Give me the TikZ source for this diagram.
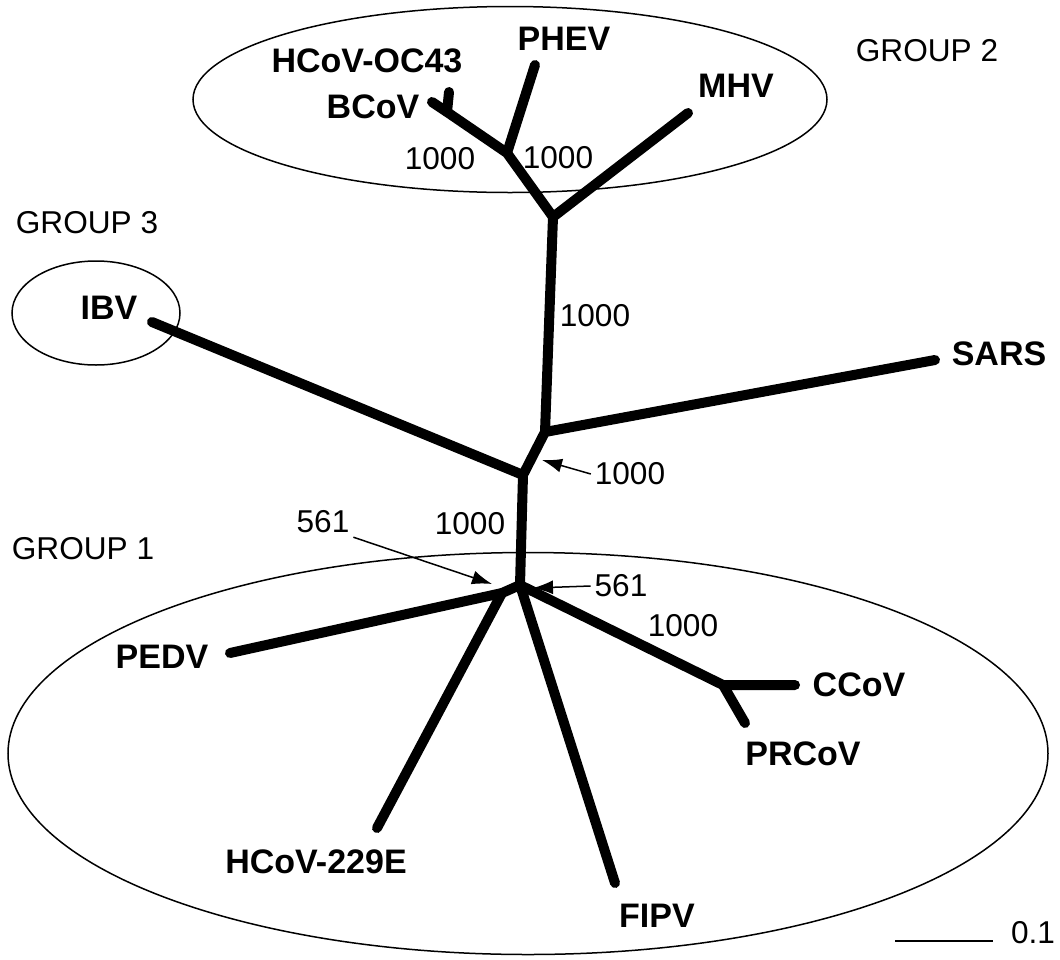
\documentclass[tikz,border=0pt]{standalone}
\usepackage{fontspec}
\setmainfont{Liberation Sans}
\usetikzlibrary{arrows.meta}
\tikzset{
  branch/.style={line width=5pt, line cap=round, line join=round},
  taxon/.style={inner sep=0pt, font=\fontsize{17}{20}\selectfont\bfseries},
  boot/.style={inner sep=0pt, outer sep=2pt, font=\fontsize{15.8}{19}\selectfont},
  pointer/.style={line width=0.75pt, -{Latex[length=10pt,width=7pt]}},
  grouprim/.style={line width=0.75pt}
}
\begin{document}
\begin{tikzpicture}[x=0.5pt,y=-0.5pt]
\useasboundingbox (0,0) rectangle (1060,959);
% group outlines
\draw[grouprim] (510,99.5) ellipse [x radius=317, y radius=93];
\draw[grouprim] (96,313) ellipse [x radius=84, y radius=52];
\draw[grouprim] (528,753.5) ellipse [x radius=520, y radius=201];
% tree points
\coordinate (oc43) at (449,92);
\coordinate (bcov) at (432,102);
\coordinate (bcj) at (447,112);
\coordinate (phj) at (507,153);
\coordinate (phev) at (535,65);
\coordinate (topj) at (553,217);
\coordinate (mhv) at (688,113);
\coordinate (sarsj) at (545,432);
\coordinate (sars) at (935,360);
\coordinate (ibvj) at (523,475);
\coordinate (ibv) at (152,322);
\coordinate (rootj) at (520,585);
\coordinate (pedvj) at (502,593);
\coordinate (pedv) at (230,653);
\coordinate (hcov) at (377,828);
\coordinate (fipv) at (615,883);
\coordinate (ccovj) at (723,685);
\coordinate (ccov) at (795,685);
\coordinate (prcov) at (745,723);
% branches
\draw[branch] (bcov) -- (bcj) -- (phj) -- (topj) -- (sarsj) -- (ibvj) -- (rootj) -- (pedvj) -- (pedv);
\draw[branch] (bcj) -- (oc43);
\draw[branch] (phj) -- (phev);
\draw[branch] (topj) -- (mhv);
\draw[branch] (sarsj) -- (sars);
\draw[branch] (ibvj) -- (ibv);
\draw[branch] (pedvj) -- (hcov);
\draw[branch] (rootj) -- (fipv);
\draw[branch] (rootj) -- (ccovj) -- (ccov);
\draw[branch] (ccovj) -- (prcov);
% taxa
\node[taxon] (toc43) at (367,61) {HCoV-OC43};
\node[taxon] (tphev) at (564,39) {PHEV};
\node[taxon] (tbcov) at (373,107) {BCoV};
\node[taxon] (tmhv) at (736,86) {MHV};
\node[taxon] (tibv) at (109,308) {IBV};
\node[taxon] (tsars) at (999,354) {SARS};
\node[taxon] (tpedv) at (162,657) {PEDV};
\node[taxon] (tccov) at (859,685) {CCoV};
\node[taxon] (tprcov) at (803,754) {PRCoV};
\node[taxon] (thcov) at (316,862) {HCoV-229E};
\node[taxon] (tfipv) at (657,916) {FIPV};
% groups
\node[boot] (g2) at (927,51) {GROUP 2};
\node[boot] (g3) at (87,223) {GROUP 3};
\node[boot] (g1) at (83,549) {GROUP 1};
% bootstrap values
\node[boot] (bphl) at (440,159) {1000};
\node[boot] (bphr) at (558,158) {1000};
\node[boot] (btop) at (595,316) {1000};
\node[boot] (bsars) at (630,474) {1000};
\node[boot] (bibv) at (470,524) {1000};
\node[boot] (bleft) at (323,522) {561};
\node[boot] (bright) at (621,586) {561};
\node[boot] (bccov) at (683,626) {1000};
\coordinate (psars) at (542,460);
\coordinate (pleft) at (492,584);
\coordinate (pright) at (533,588);
\draw[pointer] (bsars.west) -- (psars);
\draw[pointer] (bleft.south east) -- (pleft);
\draw[pointer] (bright.west) -- (pright);
% scale
\coordinate (sc0) at (895,941);
\coordinate (sc1) at (993,941);
\draw[grouprim] (sc0) -- (sc1);
\node[boot] (sclbl) at (1033,933) {0.1};
\end{tikzpicture}
\end{document}
